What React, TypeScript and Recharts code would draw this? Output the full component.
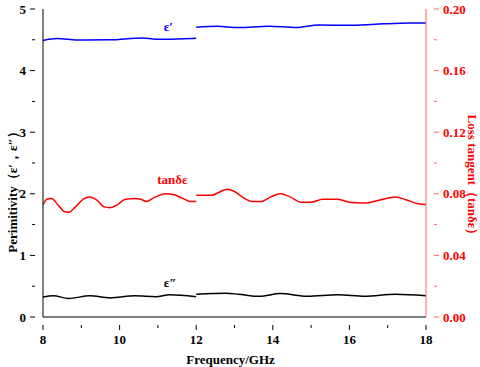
import React from "react";
import { LineChart, Line, XAxis, YAxis, ReferenceDot } from "recharts";

// ε′ (real permittivity), two measurement bands
const epsRealFreqA = [8.0, 8.37, 8.9, 9.75, 10.6, 10.95, 11.5, 12.0];
const epsRealValA = [4.49, 4.52, 4.495, 4.5, 4.53, 4.51, 4.515, 4.525];
const epsRealFreqB = [12.0, 12.55, 13.1, 13.9, 14.6, 15.2, 16.1, 16.9, 17.6, 18.0];
const epsRealValB = [4.705, 4.72, 4.698, 4.72, 4.7, 4.74, 4.735, 4.76, 4.772, 4.772];

// ε″ (imaginary permittivity)
const epsImagFreqA = [8.0, 8.27, 8.67, 9.22, 9.75, 10.4, 10.95, 11.3, 12.0];
const epsImagValA = [0.325, 0.345, 0.3, 0.345, 0.31, 0.345, 0.33, 0.36, 0.33];
const epsImagFreqB = [12.0, 12.78, 13.1, 13.65, 14.2, 14.9, 15.7, 16.4, 17.2, 18.0];
const epsImagValB = [0.37, 0.385, 0.37, 0.335, 0.38, 0.335, 0.36, 0.335, 0.37, 0.345];

// tanδε (loss tangent)
const tanFreqA = [8.0, 8.1, 8.22, 8.4, 8.55, 8.67, 8.85, 9.05, 9.22, 9.4, 9.6, 9.75, 9.95, 10.15, 10.4, 10.55, 10.7, 10.9, 11.2, 11.4, 11.65, 11.85, 12.0];
const tanValA = [0.073, 0.0765, 0.077, 0.0725, 0.0685, 0.068, 0.0715, 0.0765, 0.078, 0.076, 0.0715, 0.071, 0.073, 0.0765, 0.077, 0.0765, 0.075, 0.0775, 0.08, 0.0795, 0.077, 0.075, 0.075];
const tanFreqB = [12.0, 12.4, 12.6, 12.8, 13.0, 13.2, 13.45, 13.7, 13.95, 14.2, 14.45, 14.75, 15.0, 15.3, 15.7, 16.0, 16.4, 16.8, 17.2, 17.5, 17.8, 18.0];
const tanValB = [0.079, 0.079, 0.081, 0.083, 0.0815, 0.078, 0.075, 0.075, 0.078, 0.08, 0.078, 0.0745, 0.0745, 0.0765, 0.0765, 0.0745, 0.074, 0.076, 0.078, 0.076, 0.0735, 0.073];

const xTicks = [8, 9, 10, 11, 12, 13, 14, 15, 16, 17, 18];
const xMajor = [8, 10, 12, 14, 16, 18];
const leftTicks = [0, 0.5, 1, 1.5, 2, 2.5, 3, 3.5, 4, 4.5, 5];
const leftMajor = [0, 1, 2, 3, 4, 5];
const rightTicks = [0, 0.02, 0.04, 0.06, 0.08, 0.1, 0.12, 0.14, 0.16, 0.18, 0.2];
const rightMajor = [0, 0.04, 0.08, 0.12, 0.16, 0.2];

const xTitle = "Frequency/GHz";
const leftTitle = "Perimitivity（ε′，ε″）";
const rightTitle = "Loss tangent（tanδε）";

const zip = (xs: number[], ys: number[], key: string) => xs.map((f, i) => ({ f, [key]: ys[i] }));

const FONT = '"Liberation Serif", "Times New Roman", Times, serif';
const RED = "#ff0000";
const AXRED = "#ff6666";
const txt = (fill: string, size = 13) => ({ fontFamily: FONT, fontWeight: 700, fontSize: size, fill });

const isMajor = (v: number, arr: number[]) => arr.some((m) => Math.abs(m - v) < 1e-6);

const XTick = (props: any) => {
  const { x, y, payload } = props;
  const major = isMajor(payload.value, xMajor);
  return (
    <g>
      <line x1={x} x2={x} y1={y} y2={y + (major ? 5 : 3)} stroke="#000" strokeWidth={1} />
      {major && (
        <text x={x} y={y + 19} textAnchor="middle" style={txt("#000")}>
          {payload.value}
        </text>
      )}
    </g>
  );
};

const LTick = (props: any) => {
  const { x, y, payload } = props;
  const major = isMajor(payload.value, leftMajor);
  return (
    <g>
      <line x1={x} x2={x - (major ? 5 : 3)} y1={y} y2={y} stroke="#000" strokeWidth={1} />
      {major && (
        <text x={x - 9} y={y + 4.5} textAnchor="end" style={txt("#000")}>
          {payload.value}
        </text>
      )}
    </g>
  );
};

const RTick = (props: any) => {
  const { x, y, payload } = props;
  const major = isMajor(payload.value, rightMajor);
  return (
    <g>
      <line x1={x} x2={x + (major ? 5 : 3)} y1={y} y2={y} stroke={AXRED} strokeWidth={1} />
      {major && (
        <text x={x + 9} y={y + 4.5} textAnchor="start" style={txt(RED)}>
          {payload.value.toFixed(2)}
        </text>
      )}
    </g>
  );
};

const textLabel = (s: string, color: string) => (p: any) => {
  const vb = p.viewBox || {};
  return (
    <text x={vb.x} y={vb.y} textAnchor="middle" dominantBaseline="central" style={txt(color, 13)}>
      {s}
    </text>
  );
};

const LeftTitle = (p: any) => {
  const vb = p.viewBox || {};
  const cx = vb.x + 12;
  const cy = vb.y + vb.height / 2 + 26;
  return (
    <text x={cx} y={cy} transform={`rotate(-90 ${cx} ${cy})`} textAnchor="middle" dominantBaseline="central" style={txt("#000")}>
      {leftTitle}
    </text>
  );
};

const RightTitle = (p: any) => {
  const vb = p.viewBox || {};
  const cx = vb.x + 46;
  const cy = vb.y + vb.height / 2 + 15;
  return (
    <text x={cx} y={cy} transform={`rotate(90 ${cx} ${cy})`} textAnchor="middle" dominantBaseline="central" style={txt(RED)}>
      {rightTitle}
    </text>
  );
};

const BottomTitle = (p: any) => {
  const vb = p.viewBox || {};
  return (
    <text x={vb.x + vb.width / 2 - 4} y={vb.y + 42} textAnchor="middle" dominantBaseline="central" style={txt("#000")}>
      {xTitle}
    </text>
  );
};

export default function App() {
  return (
    <div style={{ position: "absolute", left: 0, top: 0, background: "#fff" }}>
      <LineChart width={480} height={367} margin={{ top: 9, right: 0, bottom: 0, left: 0 }}>
        <XAxis
          dataKey="f"
          type="number"
          domain={[8, 18]}
          ticks={xTicks}
          interval={0}
          height={50}
          tick={<XTick />}
          tickLine={false}
          axisLine={{ stroke: "#000" }}
          allowDuplicatedCategory={false}
          label={<BottomTitle />}
        />
        <XAxis xAxisId="top" orientation="top" type="number" domain={[8, 18]} tick={false} tickLine={false} height={0} axisLine={{ stroke: "#000" }} />
        <YAxis
          yAxisId="left"
          type="number"
          domain={[0, 5]}
          ticks={leftTicks}
          interval={0}
          width={43}
          tick={<LTick />}
          tickLine={false}
          axisLine={{ stroke: "#000" }}
          label={<LeftTitle />}
        />
        <YAxis
          yAxisId="right"
          orientation="right"
          type="number"
          domain={[0, 0.2]}
          ticks={rightTicks}
          interval={0}
          width={54}
          tick={<RTick />}
          tickLine={false}
          axisLine={{ stroke: AXRED }}
          label={<RightTitle />}
        />
        <Line yAxisId="left" data={zip(epsRealFreqA, epsRealValA, "v")} dataKey="v" type="monotone" stroke="#0000ff" strokeWidth={1.5} dot={false} isAnimationActive={false} />
        <Line yAxisId="left" data={zip(epsRealFreqB, epsRealValB, "v")} dataKey="v" type="monotone" stroke="#0000ff" strokeWidth={1.5} dot={false} isAnimationActive={false} />
        <Line yAxisId="left" data={zip(epsImagFreqA, epsImagValA, "v")} dataKey="v" type="monotone" stroke="#000" strokeWidth={1.5} dot={false} isAnimationActive={false} />
        <Line yAxisId="left" data={zip(epsImagFreqB, epsImagValB, "v")} dataKey="v" type="monotone" stroke="#000" strokeWidth={1.5} dot={false} isAnimationActive={false} />
        <Line yAxisId="right" data={zip(tanFreqA, tanValA, "t")} dataKey="t" type="monotone" stroke={RED} strokeWidth={1.5} dot={false} isAnimationActive={false} />
        <Line yAxisId="right" data={zip(tanFreqB, tanValB, "t")} dataKey="t" type="monotone" stroke={RED} strokeWidth={1.5} dot={false} isAnimationActive={false} />
        <ReferenceDot yAxisId="left" x={11.27} y={4.72} r={0} fill="none" stroke="none" label={textLabel("ε′", "#0000ff")} />
        <ReferenceDot yAxisId="left" x={11.38} y={2.24} r={0} fill="none" stroke="none" label={textLabel("tanδε", RED)} />
        <ReferenceDot yAxisId="left" x={11.32} y={0.56} r={0} fill="none" stroke="none" label={textLabel("ε″", "#000")} />
      </LineChart>
    </div>
  );
}
